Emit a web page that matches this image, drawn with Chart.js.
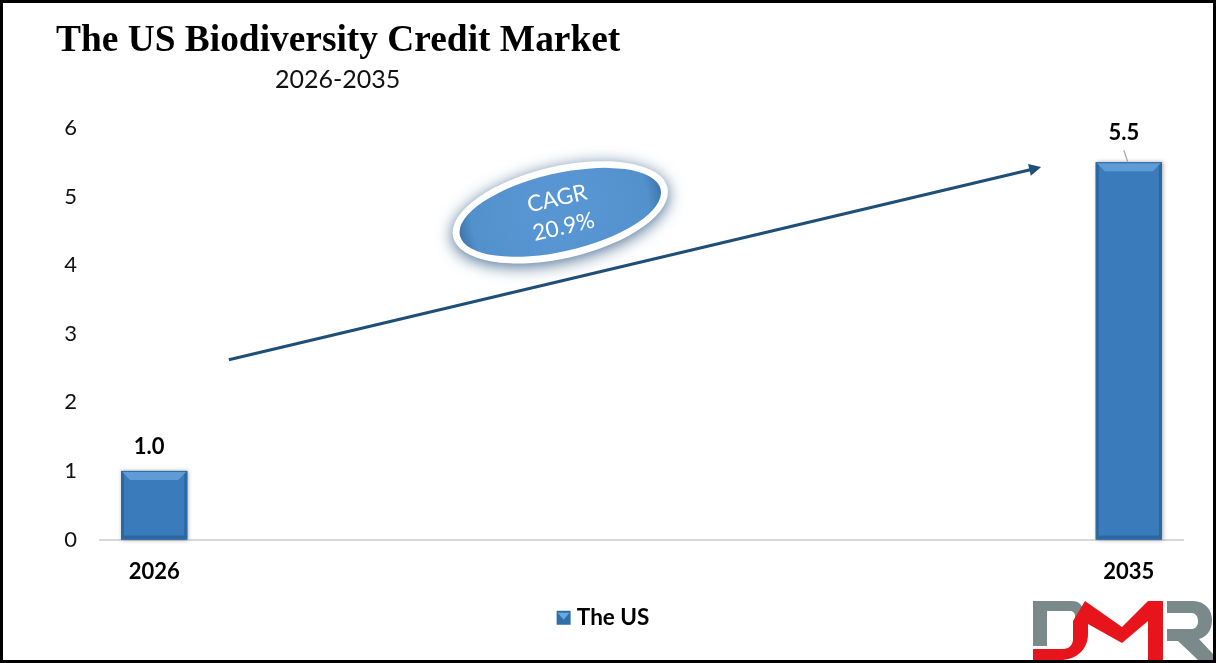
<!DOCTYPE html>
<html>
<head>
<meta charset="utf-8">
<title>The US Biodiversity Credit Market</title>
<script src="https://cdn.jsdelivr.net/npm/chart.js@4"></script>
<style>
  html, body { margin: 0; padding: 0; background: #fff; overflow: hidden; }
  #frame { position: relative; width: 1210px; height: 657px; border: 3px solid #000; background: #fff; overflow: hidden; }
  #grafico { position: absolute; left: -3px; top: -3px; }
  #titulo { position: absolute; left: 53px; top: 14px; font: bold 37.4px "Liberation Serif", serif; color: #000; white-space: nowrap; }
  #subtitulo { position: absolute; left: 272px; top: 60px; font: 25px Lato, sans-serif; color: #111; white-space: nowrap; }
  #logo { position: absolute; left: 1028px; top: 595px; }
</style>
</head>
<body>
<div id="frame">
  <canvas id="grafico" width="1216" height="660"></canvas>
  <div id="titulo">The US Biodiversity Credit Market</div>
  <div id="subtitulo">2026-2035</div>
  <svg id="logo" width="185" height="65" viewBox="1031 598 185 65">
    <path fill="#7a8a8a" d="M1033 601H1072C1079 601 1083 605 1083 612V620L1075 624V616C1075 613 1073 611 1070 611H1047V646H1033Z"/>
    <path fill="#7a8a8a" d="M1167 601H1193C1205 601 1212 610 1212 620C1212 630 1207 637 1199 639L1213 654V660H1198L1178 641H1167V629H1192C1196 629 1198 625 1198 621C1198 616 1195 613 1192 613H1167Z"/>
    <path fill="#e8141c" d="M1033 649H1063C1069 649 1073 645 1073 639V621L1085 601L1122 627L1148 601H1163V660H1148V621L1122 643L1088 624V634C1088 650 1076 660 1060 660H1033Z"/>
  </svg>
</div>
<script>
// Datos
const categorias = ['2026', '2027', '2028', '2029', '2030', '2031', '2032', '2033', '2034', '2035'];
const valores = [1.0, null, null, null, null, null, null, null, null, 5.5];
const etiquetasVisibles = ['2026', '2035'];
const ticksY = [0, 1, 2, 3, 4, 5, 6];
const serie = 'The US';
const cagrTexto = ['CAGR', '20.9%'];
// flecha y ovalo, en unidades de los ejes (indice de categoria, valor)
const flechaDesde = [0.69, 2.62];
const flechaHasta = [8.19, 5.43];
const ovaloCentro = [3.75, 4.77];

// la leyenda del original no esta centrada sobre el lienzo
const moverLeyenda = {
  id: 'moverLeyenda',
  afterLayout(chart) {
    const dx = 9;
    chart.legend.left += dx;
    chart.legend.right += dx;
    chart.legend.legendHitBoxes.forEach((h) => { h.left += dx; });
  },
};

const bisel = {
  id: 'bisel',
  afterDatasetDraw(chart) {
    const ctx = chart.ctx;
    chart.getDatasetMeta(0).data.forEach((bar, i) => {
      if (valores[i] === null) return;
      const l = bar.x - bar.width / 2, r = bar.x + bar.width / 2;
      const t = bar.y, b = bar.base, e = 7;
      ctx.save();
      ctx.shadowColor = 'rgba(60,60,60,0.45)';
      ctx.shadowBlur = 4;
      ctx.shadowOffsetX = 1;
      ctx.fillStyle = '#3a7cbb';
      ctx.fillRect(l, t, r - l, b - t);
      ctx.restore();
      ctx.save();
      const cara = (pts, color) => {
        ctx.fillStyle = color;
        ctx.beginPath();
        pts.forEach((p, k) => (k ? ctx.lineTo(p[0], p[1]) : ctx.moveTo(p[0], p[1])));
        ctx.closePath();
        ctx.fill();
      };
      cara([[l, t], [r, t], [r - e - 2, t + e + 2], [l + e + 2, t + e + 2]], '#5f9bd4');
      cara([[l, t], [l + 3, t + 3], [l + 3, b - 3], [l, b]], '#2c689f');
      cara([[r, t], [r - 3, t + 3], [r - 3, b - 3], [r, b]], '#2c689f');
      cara([[l, b], [l + 3, b - 4], [r - 3, b - 4], [r, b]], '#2c689f');
      ctx.strokeStyle = '#2b6ca6';
      ctx.lineWidth = 1;
      ctx.strokeRect(l + 0.5, t + 0.5, r - l - 1, b - t - 1);
      ctx.restore();
    });
  },
};

const etiquetas = {
  id: 'etiquetas',
  afterDraw(chart) {
    const ctx = chart.ctx;
    ctx.save();
    ctx.font = 'bold 22px Lato, sans-serif';
    ctx.fillStyle = '#000';
    ctx.textAlign = 'center';
    ctx.textBaseline = 'middle';
    chart.getDatasetMeta(0).data.forEach((bar, i) => {
      if (valores[i] === null) return;
      const alto = valores[i] > 3;
      const dy = alto ? 29 : 24;
      ctx.fillText(valores[i].toFixed(1), bar.x - 5, bar.y - dy);
      if (alto) {
        ctx.strokeStyle = '#a6a6a6';
        ctx.lineWidth = 1.2;
        ctx.beginPath();
        ctx.moveTo(bar.x - 5, bar.y - 12);
        ctx.lineTo(bar.x - 1, bar.y);
        ctx.stroke();
      }
    });
    ctx.restore();
  },
};

const flecha = {
  id: 'flecha',
  afterDraw(chart) {
    const ctx = chart.ctx;
    const sx = chart.scales.x, sy = chart.scales.y;
    const x1 = sx.getPixelForValue(flechaDesde[0]), y1 = sy.getPixelForValue(flechaDesde[1]);
    const x2 = sx.getPixelForValue(flechaHasta[0]), y2 = sy.getPixelForValue(flechaHasta[1]);
    const ang = Math.atan2(y2 - y1, x2 - x1);
    ctx.save();
    ctx.strokeStyle = '#1f4e79';
    ctx.fillStyle = '#1f4e79';
    ctx.lineWidth = 3;
    ctx.beginPath();
    ctx.moveTo(x1, y1);
    ctx.lineTo(x2 - 8 * Math.cos(ang), y2 - 8 * Math.sin(ang));
    ctx.stroke();
    ctx.translate(x2, y2);
    ctx.rotate(ang);
    ctx.beginPath();
    ctx.moveTo(0, 0);
    ctx.lineTo(-12, -6);
    ctx.lineTo(-12, 6);
    ctx.closePath();
    ctx.fill();
    ctx.restore();

    // ovalo CAGR
    const cx = sx.getPixelForValue(ovaloCentro[0]), cy = sy.getPixelForValue(ovaloCentro[1]);
    ctx.save();
    ctx.translate(cx, cy);
    ctx.rotate(-13 * Math.PI / 180);
    ctx.save();
    ctx.shadowColor = 'rgba(31,78,121,0.8)';
    ctx.shadowBlur = 16;
    ctx.shadowOffsetY = 3;
    ctx.fillStyle = '#fff';
    ctx.beginPath();
    ctx.ellipse(0, 0, 110, 46, 0, 0, Math.PI * 2);
    ctx.fill();
    ctx.restore();
    const g = ctx.createRadialGradient(0, -4, 30, 0, 0, 104);
    g.addColorStop(0, '#5796d2');
    g.addColorStop(0.8, '#5391cd');
    g.addColorStop(1, '#3d74a8');
    ctx.fillStyle = g;
    ctx.beginPath();
    ctx.ellipse(0, 0, 103, 39, 0, 0, Math.PI * 2);
    ctx.fill();
    ctx.fillStyle = '#fff';
    ctx.font = '22.5px Lato, sans-serif';
    ctx.textAlign = 'center';
    ctx.textBaseline = 'middle';
    ctx.fillText(cagrTexto[0], 0, -14);
    ctx.fillText(cagrTexto[1], 0, 15);
    ctx.restore();

    // muestra de la leyenda, pegada al texto como en el original
    const caja = chart.legend.legendHitBoxes[0];
    if (caja) {
      const lx = caja.left + 5, ty = caja.top + (caja.height - 14) / 2;
      ctx.save();
      ctx.fillStyle = '#2f6ea8';
      ctx.fillRect(lx, ty, 14, 14);
      ctx.fillStyle = '#6aa6df';
      ctx.beginPath();
      ctx.moveTo(lx + 1, ty + 2);
      ctx.lineTo(lx + 13, ty + 2);
      ctx.lineTo(lx + 7, ty + 9);
      ctx.closePath();
      ctx.fill();
      ctx.restore();
    }
  },
};

new Chart(document.getElementById('grafico').getContext('2d'), {
  type: 'bar',
  data: {
    labels: categorias,
    datasets: [{
      label: serie,
      data: valores,
      backgroundColor: '#377ab9',
      borderWidth: 0,
      barPercentage: 0.61,
      categoryPercentage: 1,
    }],
  },
  options: {
    responsive: false,
    animation: false,
    devicePixelRatio: 1,
    layout: { padding: { top: 128, right: 33, bottom: 21, left: 0 } },
    plugins: {
      title: { display: false },
      tooltip: { enabled: false },
      legend: {
        display: true,
        position: 'bottom',
        labels: {
          boxWidth: 14,
          boxHeight: 14,
          padding: 10,
          color: '#000',
          font: { family: 'Lato, sans-serif', size: 22.5, weight: 'bold' },
          generateLabels: (chart) => [{
            text: chart.data.datasets[0].label,
            fillStyle: 'rgba(0,0,0,0)',
            strokeStyle: 'rgba(0,0,0,0)',
            lineWidth: 0,
            datasetIndex: 0,
          }],
        },
      },
    },
    scales: {
      x: {
        afterFit: (eje) => { eje.height = 57; },
        grid: { display: false },
        border: { color: '#d9d9d9', width: 2 },
        ticks: {
          autoSkip: false,
          maxRotation: 0,
          padding: 11,
          color: '#000',
          font: { family: 'Lato, sans-serif', size: 22, weight: 'bold' },
          callback(v) {
            const txt = this.getLabelForValue(v);
            return etiquetasVisibles.includes(txt) ? txt : '';
          },
        },
      },
      y: {
        min: ticksY[0],
        max: ticksY[ticksY.length - 1],
        afterFit: (eje) => { eje.width = 100; },
        grid: { display: false, drawTicks: false },
        border: { display: false },
        ticks: {
          stepSize: 1,
          padding: 23,
          color: '#111',
          font: { family: 'Lato, sans-serif', size: 22 },
        },
      },
    },
  },
  plugins: [moverLeyenda, bisel, etiquetas, flecha],
});
</script>
</body>
</html>
